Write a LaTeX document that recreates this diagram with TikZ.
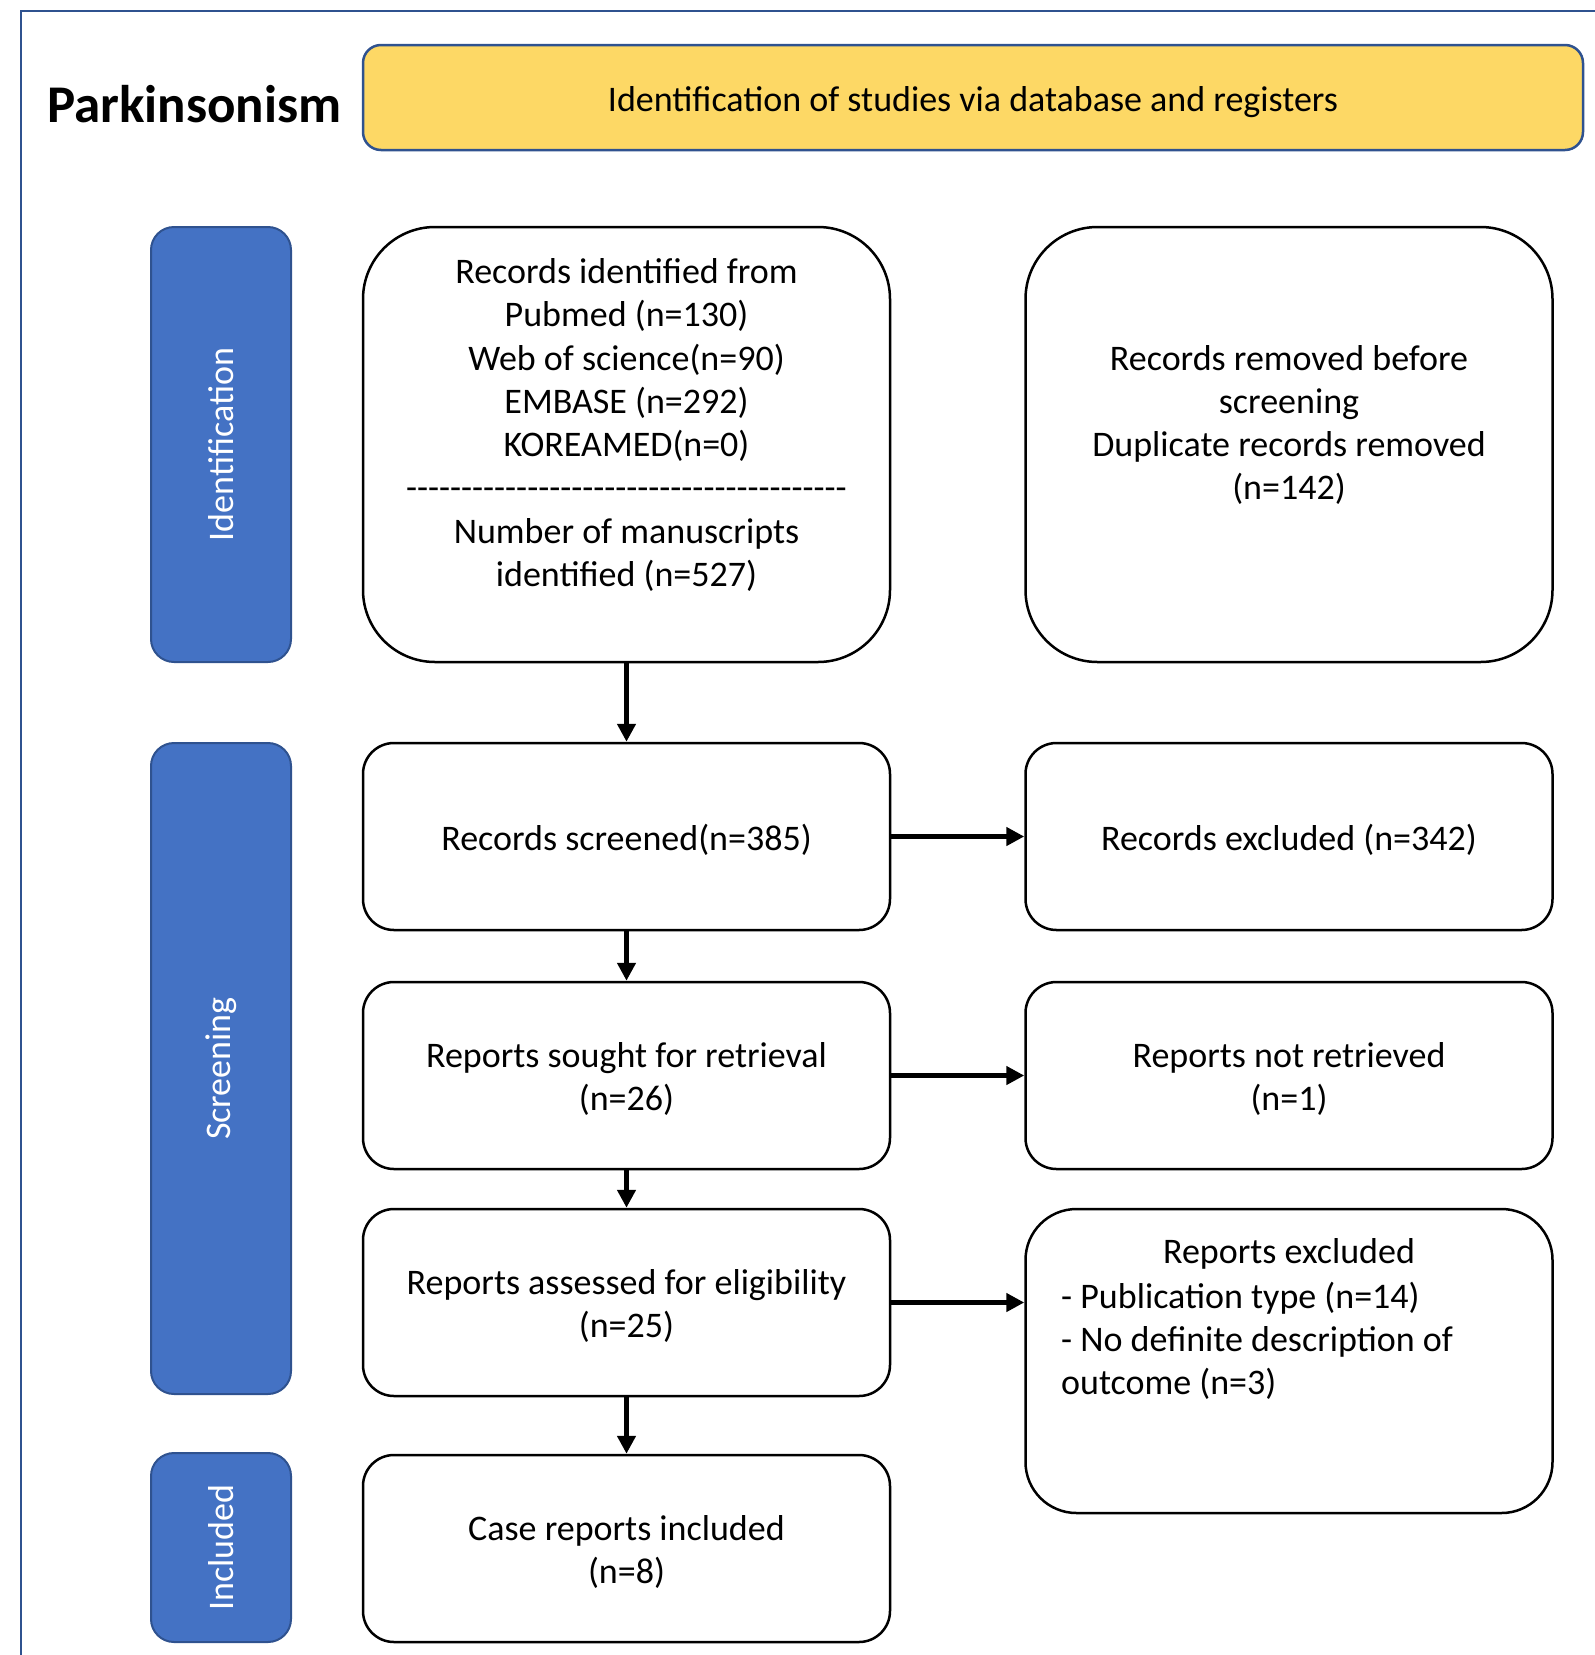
\documentclass[tikz,border=0pt]{standalone}
\usepackage{fontspec}
\setmainfont{Carlito}
\usetikzlibrary{arrows.meta}
\definecolor{yel}{HTML}{FDD865}
\definecolor{bfill}{HTML}{4472C4}
\definecolor{bline}{HTML}{2F528F}
\newcommand\hy{\mbox{-}}
\begin{document}
\begin{tikzpicture}[x=1pt,y=-1pt,
  txt/.style={font=\fontsize{36}{43.3}\selectfont, align=center, inner sep=0pt},
  box/.style={draw=black, line width=2.5pt, rounded corners=#1, fill=white, inner sep=0pt, minimum width=527pt},
  side/.style={draw=bline, line width=2pt, fill=bfill, rounded corners=23pt, minimum width=140pt, inner sep=0pt},
  sidetxt/.style={txt, text=white, rotate=90},
  arr/.style={line width=5.5pt, -{Triangle[length=18pt,width=18pt]}}]
\useasboundingbox (0,0) rectangle (1595,1655);
% frame
\draw[bline, line width=2pt] (21,1655) -- (21,11) -- (1595,11);
% title
\node[font=\bfseries\fontsize{53}{60}\selectfont, anchor=base west, inner sep=0pt] (title) at (47,122) {Parkinsonism};
\node[draw=bline, line width=2.5pt, fill=yel, rounded corners=18pt, minimum width=1220pt, minimum height=105pt, inner sep=0pt] (head) at (973,97.5) {};
\node[txt] (headtxt) at (973,102) {Identification of studies via database and registers};
% side labels
\node[side, minimum height=435pt] (sid) at (221,444.5) {};
\node[sidetxt] at (sid.center) {Identification};
\node[side, minimum height=651pt] (sscr) at (221,1068.5) {};
\node[sidetxt] at (sscr.center) {Screening};
\node[side, minimum height=189pt] (sinc) at (221,1547.5) {};
\node[sidetxt] at (sinc.center) {Included};
% left column
\node[box=72pt, minimum height=435pt] (b1) at (626.5,444.5) {};
\node[txt] (b1t) at (626.5,425) {Records identified from\\Pubmed (n=130)\\Web of science(n=90)\\EMBASE (n=292)\\KOREAMED(n=0)\\
\hy\hy\hy\hy\hy\hy\hy\hy\hy\hy\hy\hy\hy\hy\hy\hy\hy\hy\hy\hy\hy\hy\hy\hy\hy\hy\hy\hy\hy\hy\hy\hy\hy\hy\hy\hy\hy\hy\hy\hy\\
Number of manuscripts\\identified (n=527)};
\node[box=31pt, minimum height=187pt] (b2) at (626.5,836.5) {};
\node[txt] at ([yshift=-3.5pt]b2.center) {Records screened(n=385)};
\node[box=31pt, minimum height=187pt] (b3) at (626.5,1075.5) {};
\node[txt] at ([yshift=-3.5pt]b3.center) {Reports sought for retrieval\\(n=26)};
\node[box=31pt, minimum height=187pt] (b4) at (626.5,1302.5) {};
\node[txt] at ([yshift=-3.5pt]b4.center) {Reports assessed for eligibility\\(n=25)};
\node[box=31pt, minimum height=187pt] (b5) at (626.5,1548.5) {};
\node[txt] at ([yshift=-3.5pt]b5.center) {Case reports included\\(n=8)};
% right column
\node[box=72pt, minimum height=435pt] (r1) at (1289,444.5) {};
\node[txt] at (1289,425) {Records removed before\\screening\\Duplicate records removed\\(n=142)};
\node[box=31pt, minimum height=187pt] (r2) at (1289,836.5) {};
\node[txt] at ([yshift=-3.5pt]r2.center) {Records excluded (n=342)};
\node[box=31pt, minimum height=187pt] (r3) at (1289,1075.5) {};
\node[txt] at ([yshift=-3.5pt]r3.center) {Reports not retrieved\\(n=1)};
\node[box=51pt, minimum height=304pt] (r4) at (1289,1361) {};
\node[txt] (r4h) at (1289,1254) {Reports excluded};
\node[txt, align=left, anchor=west] (r4t) at (1061,1341) {- Publication type (n=14)\\- No definite description of\\outcome (n=3)};
% arrows
\draw[arr] (b1.south) -- (b2.north);
\draw[arr] (b2.south) -- (b3.north);
\draw[arr] (b3.south) -- (b4.north);
\draw[arr] (b4.south) -- (b5.north);
\draw[arr] (b2.east) -- (r2.west);
\draw[arr] (b3.east) -- (r3.west);
\draw[arr] (b4.east) -- (b4.east -| r4.west);
\end{tikzpicture}
\end{document}
